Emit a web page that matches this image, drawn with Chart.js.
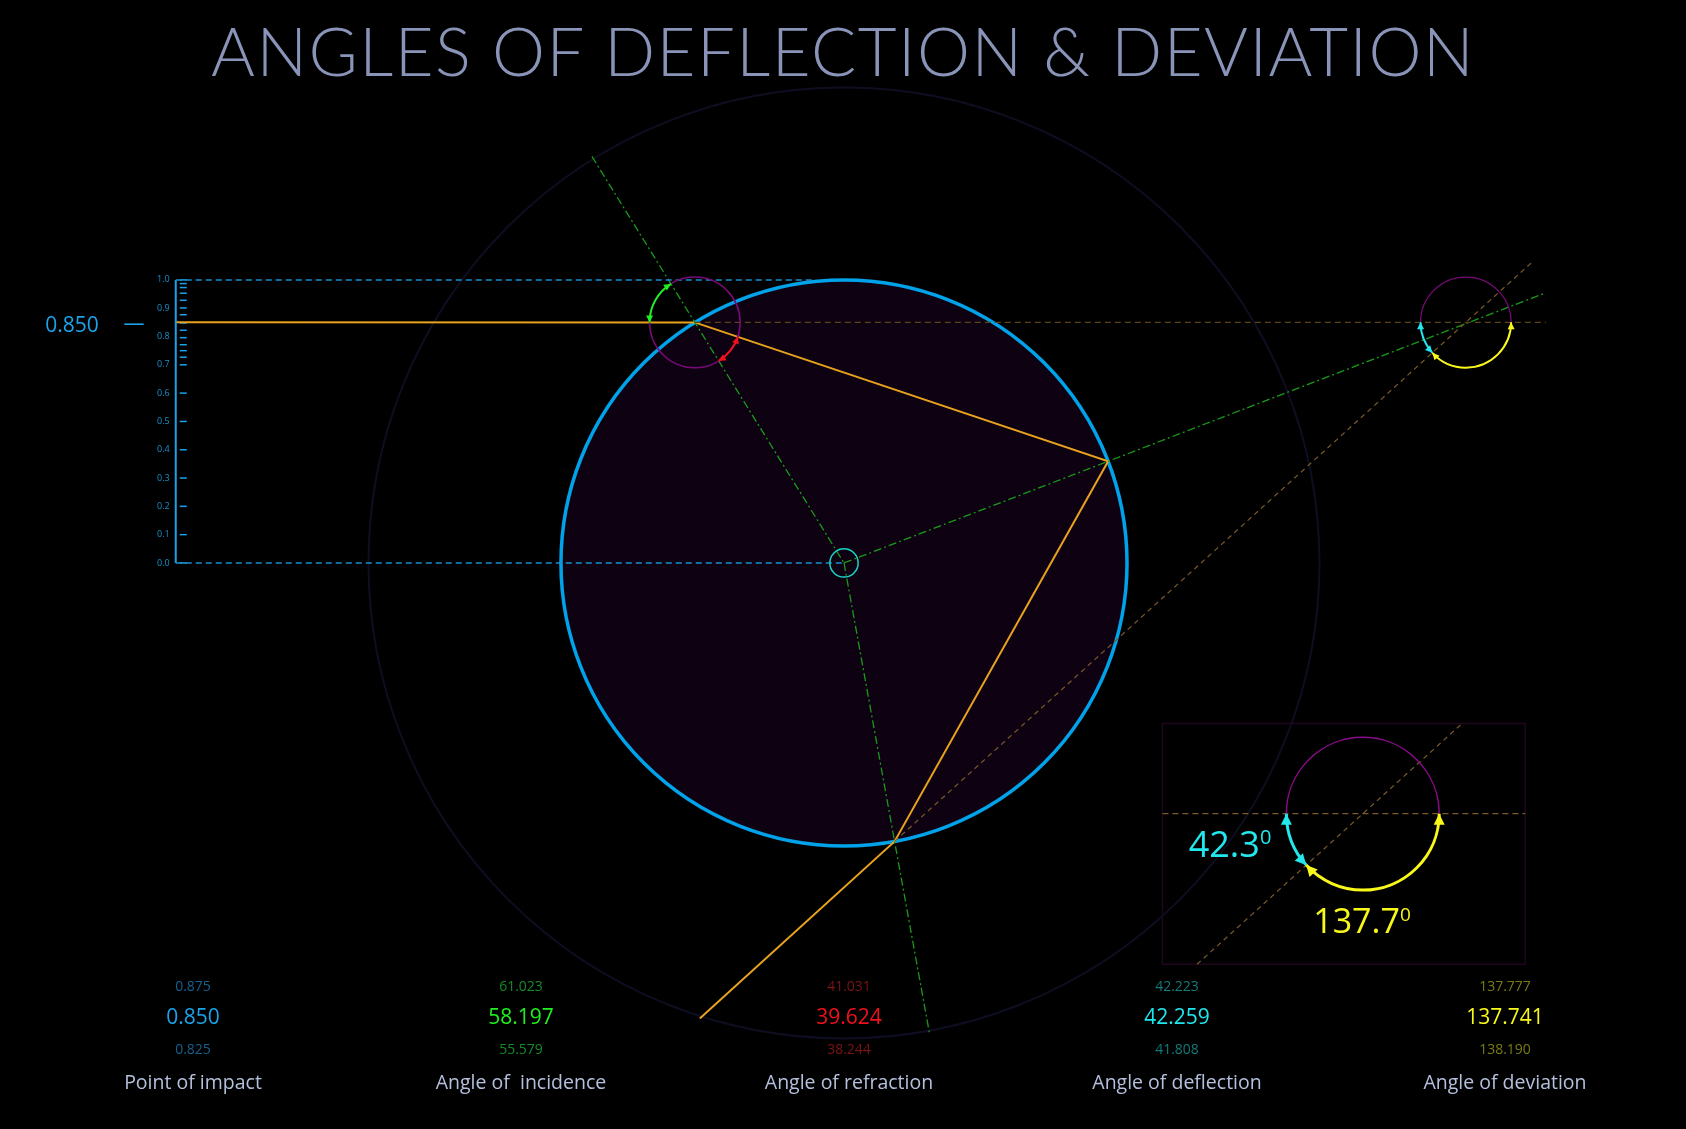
<!DOCTYPE html>
<html><head><meta charset="utf-8">
<script src="https://cdn.jsdelivr.net/npm/chart.js@4"></script>
<style>
html,body{margin:0;padding:0;background:#000;width:1686px;height:1129px;overflow:hidden;font-family:"Open Sans",sans-serif}
#c{position:absolute;left:0;top:0}
.t{position:absolute;transform:translate(-50%,-50%);white-space:pre;}
</style></head><body>
<canvas id="c" width="1686" height="1129"></canvas>
<div class="t" style="left:843px;top:50px;font-family:Lato;font-weight:300;font-size:67px;letter-spacing:1.5px;color:#8a94b8">ANGLES OF DEFLECTION &amp; DEVIATION</div>
<div id="lbls"></div>
<script>
// ---- data ----
const impact = 0.850;
const categories = ["Point of impact","Angle of  incidence","Angle of refraction","Angle of deflection","Angle of deviation"];
const mainValues = ["0.850","58.197","39.624","42.259","137.741"];
const upperValues = ["0.875","61.023","41.031","42.223","137.777"];
const lowerValues = ["0.825","55.579","38.244","41.808","138.190"];
const incidence = 58.197, refraction = 39.624, deflection = 42.259, deviation = 137.741;
const scaleTicks = [0,0.1,0.2,0.3,0.4,0.5,0.6,0.7,0.727,0.75,0.771,0.796,0.822,0.848,0.877,0.901,0.928,0.953,0.973,0.987,1.0];
const scaleLabels = ["0.0","0.1","0.2","0.3","0.4","0.5","0.6","0.7","0.8","0.9","1.0"];
const mainColors = ["#1aa3ea","#1ff01f","#f0101e","#1ee6ee","#f8f81a"];
const dimColors  = ["#17608e","#178a2a","#7c1414","#137a7a","#7a7a14"];

// ---- labels ----
const colX=[193,521,849,1177,1505];
let h='';
categories.forEach((c,i)=>{
 h+=`<div class="t" style="left:${colX[i]}px;top:985px;font-size:14px;color:${dimColors[i]}">${upperValues[i]}</div>`;
 h+=`<div class="t" style="left:${colX[i]}px;top:1016px;font-size:21px;color:${mainColors[i]}">${mainValues[i]}</div>`;
 h+=`<div class="t" style="left:${colX[i]}px;top:1048px;font-size:14px;color:${dimColors[i]}">${lowerValues[i]}</div>`;
 h+=`<div class="t" style="left:${colX[i]}px;top:1081px;font-size:19.5px;color:#b4c0dc">${c}</div>`;
});
h+=`<div class="t" style="left:72px;top:324px;font-size:21px;color:#1aa3ea">${impact.toFixed(3)}</div>`;
h+=`<div class="t" style="left:134px;top:322px;font-size:21px;color:#1aa3ea">—</div>`;
h+=`<div class="t" style="left:1230px;top:843px;font-size:36px;color:#22e8ee">42.3<sup style="font-size:20px">0</sup></div>`;
h+=`<div class="t" style="left:1362px;top:920px;font-size:34px;color:#f8f81a">137.7<sup style="font-size:19px">0</sup></div>`;
document.getElementById('lbls').innerHTML=h;

// ---- geometry ----
const D=Math.PI/180;
const t1=180-incidence, chord=180-2*refraction;
const t2=t1-chord, t3=t2-chord;
const pt=a=>({x:Math.cos(a*D),y:Math.sin(a*D)});
const P1=pt(t1),P2=pt(t2),P3=pt(t3);
const exitDir=-deviation;
const exitEnd={x:P3.x+0.93*Math.cos(exitDir*D),y:P3.y+0.93*Math.sin(exitDir*D)};
const backEnd={x:P3.x+3.04*Math.cos(deflection*D),y:P3.y+3.04*Math.sin(deflection*D)};
const tMeet=(impact-P3.y)/Math.sin(deflection*D);
const DV={x:P3.x+tMeet*Math.cos(deflection*D),y:impact};
const scaleX=-2.361;
const inset={x1:1.125,x2:2.407,y1:-0.567,y2:-1.418,cx:1.833,cy:-0.886,r:0.27};
const inD=(inset.cy-inset.y2)/Math.sin(deflection*D);
const inU=(inset.y1-inset.cy)/Math.sin(deflection*D);
const refrDir=Math.atan2(P2.y-P1.y,P2.x-P1.x)/D;

function ln(pts,color,w,dash){return{data:pts,showLine:true,borderColor:color,borderWidth:w,borderDash:dash||[],pointRadius:0,fill:false};}
const dd=[8,3,2,3];
const datasets=[
 ln([{x:scaleX,y:1},{x:-0.1,y:1}],'#1a8fd0',1.5,[6,4]),
 ln([{x:scaleX,y:0},{x:0,y:0}],'#1a8fd0',1.5,[6,4]),
 ln([{x:scaleX,y:0},{x:scaleX,y:1}],'#1aa3ea',2),
 ln([P1,{x:2.48,y:impact}],'#5a4418',1.2,[6,4]),
 ln([P3,backEnd],'#7a5a28',1.2,[5,4]),
 ln([{x:Math.cos(t1*D)*1.69,y:Math.sin(t1*D)*1.69},{x:0,y:0}],'#1a9a1a',1.3,dd),
 ln([{x:0,y:0},{x:Math.cos(t2*D)*2.655,y:Math.sin(t2*D)*2.655}],'#1a9a1a',1.3,dd),
 ln([{x:0,y:0},{x:Math.cos(t3*D)*1.69,y:Math.sin(t3*D)*1.69}],'#1a9a1a',1.3,dd),
 ln([{x:scaleX,y:impact},P1,P2,P3,exitEnd],'#e8a21e',2),
 ln([{x:inset.x1,y:inset.cy},{x:inset.x2,y:inset.cy}],'#7a5a28',1.2,[6,4]),
 ln([{x:inset.cx-inD*Math.cos(deflection*D),y:inset.y2},{x:inset.cx+inU*Math.cos(deflection*D),y:inset.y1}],'#7a5a28',1.2,[5,4])
];

const plug={id:'geo',
 beforeDatasetsDraw(ch){
  const c=ch.ctx,xs=ch.scales.x,ys=ch.scales.y;
  const X=v=>xs.getPixelForValue(v),Y=v=>ys.getPixelForValue(v),R=r=>X(r)-X(0);
  c.save();
  c.beginPath();c.arc(X(0),Y(0),R(1.68),0,2*Math.PI);c.strokeStyle='#0e0e22';c.lineWidth=2;c.stroke();
  c.beginPath();c.arc(X(0),Y(0),R(1),0,2*Math.PI);c.fillStyle='#0e0212';c.fill();
  c.strokeStyle='#00a2ea';c.lineWidth=3.5;c.stroke();
  c.strokeStyle='#1e061f';c.lineWidth=1.5;c.strokeRect(X(inset.x1),Y(inset.y1),X(inset.x2)-X(inset.x1),Y(inset.y2)-Y(inset.y1));
  c.strokeStyle='#1aa3ea';c.lineWidth=1.5;
  scaleTicks.forEach(v=>{c.beginPath();c.moveTo(X(scaleX)+4,Y(v));c.lineTo(X(scaleX)+11,Y(v));c.stroke();});
  c.fillStyle='#1a8fd0';c.font='9px "Open Sans"';c.textAlign='right';c.textBaseline='middle';
  scaleLabels.forEach(s=>c.fillText(s,X(scaleX)-6,Y(parseFloat(s))));
  c.restore();
 },
 afterDatasetsDraw(ch){
  const c=ch.ctx,xs=ch.scales.x,ys=ch.scales.y;
  const X=v=>xs.getPixelForValue(v),Y=v=>ys.getPixelForValue(v),R=r=>X(r)-X(0);
  function circ(p,r,col,w,a0,a1){c.beginPath();c.arc(X(p.x),Y(p.y),R(r),a0===undefined?0:-a1*D,a0===undefined?2*Math.PI:-a0*D);c.strokeStyle=col;c.lineWidth=w;c.stroke();}
  function head(px,py,ang,col,s){c.save();c.translate(px,py);c.rotate(ang);c.beginPath();c.moveTo(0,0);c.lineTo(-s,-s*0.5);c.lineTo(-s,s*0.5);c.closePath();c.fillStyle=col;c.fill();c.restore();}
  function arcA(p,r,a0,a1,col,w,s){
   const lo=Math.min(a0,a1),hi=Math.max(a0,a1);
   circ(p,r,col,w,lo,hi);
   [[lo,-1],[hi,1]].forEach(([a,dir])=>{const px=X(p.x)+R(r)*Math.cos(a*D),py=Y(p.y)-R(r)*Math.sin(a*D);
    const tx=-Math.sin(a*D)*dir,ty=-Math.cos(a*D)*dir;head(px,py,Math.atan2(ty,tx),col,s);});
  }
  c.save();
  circ(P1,0.16,'#7a0a7a',1.5);
  circ({x:0,y:0},0.05,'#1ad6c8',1.5);
  circ(DV,0.16,'#7a0a7a',1.2);
  arcA(P1,0.16,t1,180,'#1ff01f',2,7);
  arcA(P1,0.16,-incidence,refrDir,'#f0101e',2,7);
  arcA(DV,0.16,180,180+deflection,'#22e8ee',2,7);
  arcA(DV,0.16,180+deflection,360,'#f8f81a',2,7);
  circ({x:inset.cx,y:inset.cy},inset.r,'#8a0a8a',1.5,0,180);
  arcA({x:inset.cx,y:inset.cy},inset.r,180,180+deflection,'#22e8ee',3,11);
  arcA({x:inset.cx,y:inset.cy},inset.r,180+deflection,360,'#f8f81a',3,11);
  c.restore();
 }};

new Chart(document.getElementById('c'),{type:'scatter',data:{datasets},
 options:{responsive:false,animation:false,devicePixelRatio:1,layout:{padding:0},
  plugins:{legend:{display:false},tooltip:{enabled:false}},
  scales:{x:{type:'linear',display:false,min:-2.982,max:2.975},y:{type:'linear',display:false,min:-2.0,max:1.989}}},
 plugins:[plug]});
</script></body></html>
